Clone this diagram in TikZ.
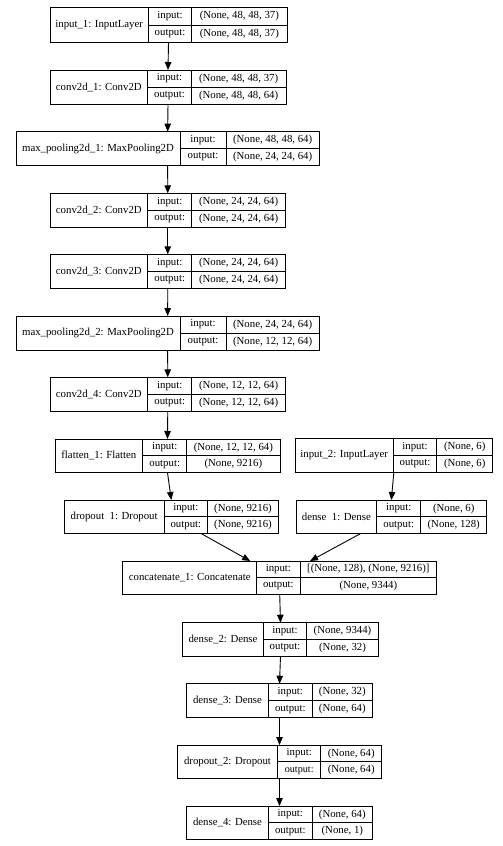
\documentclass[tikz,border=0pt]{standalone}
\usepackage{fontspec}
\setmainfont{Liberation Serif}
\usetikzlibrary{arrows.meta}
\tikzset{
  box/.style={draw, line width=0.9pt, inner sep=0pt, outer sep=0pt, anchor=north west},
  cell/.style={inner sep=0pt, font=\fontsize{10.8}{12}\selectfont},
  grid/.style={line width=0.9pt},
  conn/.style={line width=0.9pt, -{Triangle[length=8pt,width=6.5pt]}},
}
\newcommand\recout{}
\newcommand\recbox[8]{%
  % #1 name, #2 L, #3 T, #4 R, #5 B, #6 d1, #7 d2, #8 label
  \node[box, minimum width=#4pt-#2pt, minimum height=#5pt-#3pt] (#1) at (#2,#3) {};
  \draw[grid] (#6,#3) -- (#6,#5);
  \draw[grid] (#7,#3) -- (#7,#5);
  \draw[grid] (#6,{(#3+#5)/2}) -- (#4,{(#3+#5)/2});
  \node[cell] (#1-l) at ({(#2+#6)/2},{(#3+#5)/2}) {#8};
  \node[cell] (#1-i) at ({(#6+#7)/2},{(3*#3+#5)/4}) {input:};
  \node[cell] (#1-o) at ({(#6+#7)/2},{(#3+3*#5)/4}) {\recout output:};
}
\newcommand\vals[7]{%
  % #1 name, #2 T, #3 R, #4 B, #5 d2, #6 in, #7 out
  \node[cell] (#1-iv) at ({(#5+#3)/2},{(3*#2+#4)/4}) {#6};
  \node[cell] (#1-ov) at ({(#5+#3)/2},{(#2+3*#4)/4}) {#7};
}
\begin{document}
\begin{tikzpicture}[x=1pt,y=-1pt]
\useasboundingbox (0,0) rectangle (503,846);
\fill[white] (0,0) rectangle (503,846);

\recbox{in1}{50}{7.5}{287}{42.5}{148.3}{191.7}{input\_1: InputLayer}
\vals{in1}{7.5}{287}{42.5}{191.7}{(None, 48, 48, 37)}{(None, 48, 48, 37)}

\recbox{c1}{50}{70}{286}{104}{147.7}{191.2}{conv2d\_1: Conv2D}
\vals{c1}{70}{286}{104}{191.2}{(None, 48, 48, 37)}{(None, 48, 48, 64)}

\recbox{mp1}{16}{131.7}{319.3}{165.3}{180}{226}{max\_pooling2d\_1: MaxPooling2D}
\vals{mp1}{131.7}{319.3}{165.3}{226}{(None, 48, 48, 64)}{(None, 24, 24, 64)}

\recbox{c2}{50}{193.3}{285.5}{227.3}{147.7}{191.7}{conv2d\_2: Conv2D}
\vals{c2}{193.3}{285.5}{227.3}{191.7}{(None, 24, 24, 64)}{(None, 24, 24, 64)}

\recbox{c3}{50}{254.3}{285.5}{288.3}{147.7}{191.7}{conv2d\_3: Conv2D}
\vals{c3}{254.3}{285.5}{288.3}{191.7}{(None, 24, 24, 64)}{(None, 24, 24, 64)}

\recbox{mp2}{16}{316}{319.3}{350}{180}{226}{max\_pooling2d\_2: MaxPooling2D}
\vals{mp2}{316}{319.3}{350}{226}{(None, 24, 24, 64)}{(None, 12, 12, 64)}

\recbox{c4}{50}{377.3}{285.5}{411.3}{147.7}{191.7}{conv2d\_4: Conv2D}
\vals{c4}{377.3}{285.5}{411.3}{191.7}{(None, 12, 12, 64)}{(None, 12, 12, 64)}

\recbox{fl}{55}{439}{280}{472.7}{142.7}{186.7}{flatten\_1: Flatten}
\vals{fl}{439}{280}{472.7}{186.7}{(None, 12, 12, 64)}{(None, 9216)}

\recbox{in2}{295}{438.3}{492.7}{472}{393.3}{436.7}{input\_2: InputLayer}
\vals{in2}{438.3}{492.7}{472}{436.7}{(None, 6)}{(None, 6)}

\recbox{dr1}{64.3}{500}{278.3}{533.7}{164}{207.7}{dropout\ \ 1: Dropout}
\vals{dr1}{500}{278.3}{533.7}{207.7}{(None, 9216)}{(None, 9216)}

\recbox{de1}{296}{500}{486.7}{533.7}{376.7}{420.7}{dense\ \ 1: Dense}
\vals{de1}{500}{486.7}{533.7}{420.7}{(None, 6)}{(None, 128)}

\recbox{cc}{122.7}{561}{436.7}{594}{256.7}{300}{concatenate\_1: Concatenate}
\vals{cc}{561}{436.7}{594}{300}{[(None, 128), (None, 9216)]}{(None, 9344)}

\recbox{de2}{182.7}{622.7}{378.3}{656.3}{263.3}{306.7}{dense\_2: Dense}
\vals{de2}{622.7}{378.3}{656.3}{306.7}{(None, 9344)}{(None, 32)}

\recbox{de3}{186.7}{683.7}{372.3}{717.7}{268.3}{312.3}{dense\_3: Dense}
\vals{de3}{683.7}{372.3}{717.7}{312.3}{(None, 32)}{(None, 64)}

\renewcommand\recout{\fontsize{10.2}{11}\selectfont}
\recbox{dr2}{177.3}{745}{381.7}{778.7}{277.7}{320.7}{dropout\_2: Dropout}
\vals{dr2}{745}{381.7}{778.7}{320.7}{(None, 64)}{(None, 64)}
\renewcommand\recout{}

\recbox{de4}{186.7}{806}{372.3}{839.7}{268.3}{312.3}{dense\_4: Dense}
\vals{de4}{806}{372.3}{839.7}{312.3}{(None, 64)}{(None, 1)}

\draw[conn] (in1.south) -- (c1.north);
\draw[conn] (c1.south) -- (mp1.north);
\draw[conn] (mp1.south) -- (c2.north);
\draw[conn] (c2.south) -- (c3.north);
\draw[conn] (c3.south) -- (mp2.north);
\draw[conn] (mp2.south) -- (c4.north);
\draw[conn] (c4.south) -- (fl.north);
\draw[conn] (fl.south) -- (dr1.north);
\draw[conn] (in2.south) -- (de1.north);
\draw[conn] (dr1) -- (cc);
\draw[conn] (de1) -- (cc);
\draw[conn] (cc.south) -- (de2.north);
\draw[conn] (de2.south) -- (de3.north);
\draw[conn] (de3.south) -- (dr2.north);
\draw[conn] (dr2.south) -- (de4.north);
\end{tikzpicture}
\end{document}
